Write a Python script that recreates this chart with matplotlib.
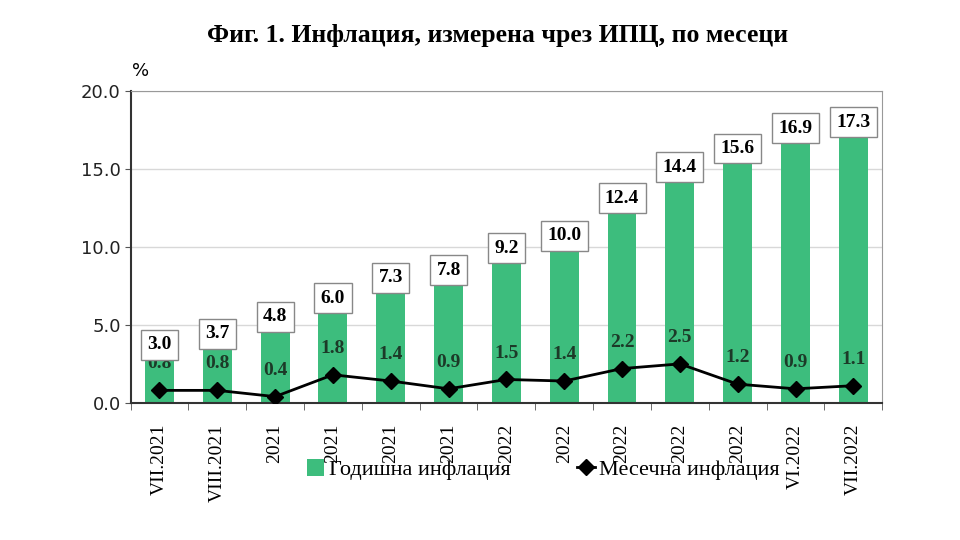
import numpy as np
import matplotlib
matplotlib.use('Agg')
import matplotlib.pyplot as plt

# data
months = ['VII.2021', 'VIII.2021', '2021', '2021', '2021', '2021', '2022',
          '2022', '2022', '2022', '2022', 'VI.2022', 'VII.2022']
annual = [3.0, 3.7, 4.8, 6.0, 7.3, 7.8, 9.2, 10.0, 12.4, 14.4, 15.6, 16.9, 17.3]
monthly = [0.8, 0.8, 0.4, 1.8, 1.4, 0.9, 1.5, 1.4, 2.2, 2.5, 1.2, 0.9, 1.1]

title = 'Фиг. 1. Инфлация, измерена чрез ИПЦ, по месеци'
serif = ['Liberation Serif', 'DejaVu Serif']

fig = plt.figure(figsize=(9.6, 5.4), dpi=100)
ax = fig.add_axes([0.136, 0.254, 0.783, 0.577])

x = np.arange(len(months))
bars = ax.bar(x, annual, width=0.5, color='#3dbd7d', zorder=2,
              label='Годишна инфлация')
line, = ax.plot(x, monthly, color='black', lw=2, marker='D', ms=8,
                zorder=3, label='Месечна инфлация')

# value boxes above bars
for xi, v in zip(x, annual):
    ax.annotate(f'{v:.1f}', (xi, v), xytext=(0, 2), textcoords='offset points',
                ha='center', va='bottom', family=serif, fontweight='bold',
                fontsize=14, zorder=5,
                bbox=dict(boxstyle='square,pad=0.33', fc='white', ec='#888888', lw=1))

# monthly labels above markers
for xi, v in zip(x, monthly):
    ax.annotate(f'{v:.1f}', (xi, v), xytext=(0, 19), textcoords='offset points',
                ha='center', va='center', family=serif, fontweight='bold',
                fontsize=14, color='#1c3a28', zorder=4)

ax.set_xlim(-0.5, len(months) - 0.5)
ax.set_ylim(0, 20)
ax.set_yticks([0, 5, 10, 15, 20])
ax.set_yticklabels([f'{t:.1f}' for t in [0, 5, 10, 15, 20]], fontsize=13,
                   color='#222222')
ax.yaxis.grid(True, color='#d8d8d8', lw=1, zorder=0)
ax.set_axisbelow(True)

ax.set_xticks(x)
ax.set_xticklabels(months, rotation=90, family=serif, fontsize=14)
ax.set_xticks(np.arange(-0.5, len(months)), minor=True)
ax.tick_params(axis='x', which='major', length=0, pad=15)
ax.tick_params(axis='x', which='minor', length=5, color='#555555')
ax.tick_params(axis='y', length=4, color='#555555', pad=3)

for s in ['top', 'right']:
    ax.spines[s].set_color('#999999')
for s in ['left', 'bottom']:
    ax.spines[s].set_color('#333333')
    ax.spines[s].set_linewidth(1.5)

fig.text(0.518, 0.935, title, ha='center', va='center', family=serif,
         fontweight='bold', fontsize=18.5)
fig.text(0.146, 0.868, '%', ha='center', va='center', fontsize=13)

fig.legend(handles=[bars, line], loc='center', bbox_to_anchor=(0.566, 0.13),
           ncol=2, frameon=False, columnspacing=3.0, handlelength=0.8,
           handleheight=0.8, handletextpad=0.2,
           prop={'family': serif, 'size': 16})

fig.savefig('out.png', dpi=100)
